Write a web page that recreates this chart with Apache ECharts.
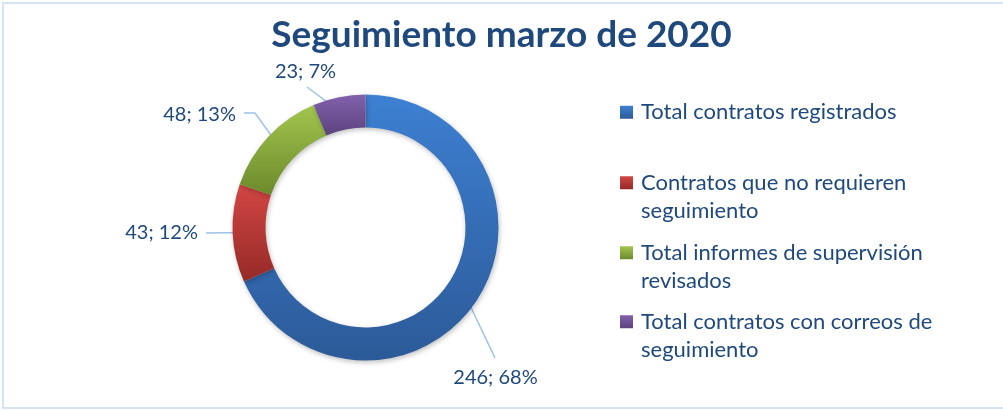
<!DOCTYPE html>
<html>
<head>
<meta charset="utf-8">
<script src="https://cdn.jsdelivr.net/npm/echarts@6/dist/echarts.min.js"></script>
<style>
html,body{margin:0;padding:0;background:#fff;}
#c{width:1003px;height:410px;}
</style>
</head>
<body>
<div id="c"></div>
<script>
// ---- data ----
var categories = [
  'Total contratos registrados',
  'Contratos que no requieren seguimiento',
  'Total informes de supervisión revisados',
  'Total contratos con correos de seguimiento'
];
var legendLines = [
  'Total contratos registrados',
  'Contratos que no requieren\nseguimiento',
  'Total informes de supervisión\nrevisados',
  'Total contratos con correos de\nseguimiento'
];
var values = [246, 43, 48, 23];
var titleText = 'Seguimiento marzo de 2020';

// ---- style ----
var TXT = '#1F497D';
var FONT = 'Lato';
var gradients = [
  ['#3D80D2', '#2C5A98'],
  ['#D24644', '#952A27'],
  ['#A2C54E', '#6B8A2B'],
  ['#8262AC', '#5C427E']
];
function grad(c) {
  return new echarts.graphic.LinearGradient(0, 0, 0, 1, [
    {offset: 0, color: c[0]}, {offset: 1, color: c[1]}
  ]);
}

var cx = 365.5, cy = 227.5, r0 = 100, r1 = 133;
var total = values.reduce(function (a, b) { return a + b; }, 0);
var midAngles = [];
(function () {
  var acc = 0;
  for (var i = 0; i < values.length; i++) {
    midAngles.push((acc + values[i] / 2) / total * 2 * Math.PI);
    acc += values[i];
  }
})();
// label placement relative to pie centre
var labelPlace = [
  {tx: 130, ty: 150, align: 'center', pts: [[129.5, 130.5]]},
  {tx: -167.5, ty: 5.5, align: 'right', pts: [[-159.5, 5.5]]},
  {tx: -129.5, ty: -113, align: 'right', pts: [[-110.5, -114.5], [-121.5, -114.5]]},
  {tx: -60, ty: -156, align: 'center', pts: [[-58.5, -140.5]]}
];

var chart = echarts.init(document.getElementById('c'), null, {renderer: 'canvas'});

var legends = [];
var legendTops = [98, 140, 210, 279];
for (var i = 0; i < categories.length; i++) {
  var multi = legendLines[i].indexOf('\n') >= 0;
  legends.push({
    orient: 'vertical',
    left: 620,
    top: legendTops[i],
    padding: 0,
    icon: 'rect',
    itemWidth: 13,
    itemHeight: 13,
    selectedMode: false,
    data: [categories[i]],
    formatter: (function (k, m) {
      return function () { return m ? '\n' + legendLines[k] : legendLines[k]; };
    })(i, multi),
    textStyle: {
      color: TXT,
      fontFamily: FONT,
      fontSize: 22,
      lineHeight: 28.5,
      padding: [0, 0, 0, 3]
    }
  });
}

var data = values.map(function (v, i) {
  return {name: categories[i], value: v, itemStyle: {color: grad(gradients[i])}};
});

chart.setOption({
  animation: false,
  backgroundColor: '#ffffff',
  title: {
    text: titleText,
    left: 'center',
    top: 12,
    textStyle: {color: TXT, fontFamily: FONT, fontWeight: 'bold', fontSize: 37}
  },
  legend: legends,
  graphic: [{
    type: 'rect',
    shape: {x: 3, y: 3, width: 1010, height: 405},
    style: {fill: 'none', stroke: '#D6E3F4', lineWidth: 2},
    silent: true,
    z: -1
  }],
  series: [{
    type: 'pie',
    center: [cx, cy],
    radius: [r0, r1],
    startAngle: 90,
    clockwise: true,
    percentPrecision: 0,
    avoidLabelOverlap: false,
    itemStyle: {
      shadowBlur: 5,
      shadowOffsetX: 1,
      shadowOffsetY: 2,
      shadowColor: 'rgba(0,0,0,0.25)'
    },
    label: {
      show: true,
      position: 'outside',
      formatter: '{c}; {d}%',
      color: TXT,
      fontFamily: FONT,
      fontSize: 20
    },
    labelLine: {
      show: true,
      length: 15,
      length2: 10,
      lineStyle: {color: '#9DC3E6', width: 1.5}
    },
    labelLayout: function (p) {
      var i = p.dataIndex;
      var a = midAngles[i];
      var rm = (r0 + r1) / 2;
      var start = [cx + rm * Math.sin(a), cy - rm * Math.cos(a)];
      var L = labelPlace[i];
      var pts = [start];
      L.pts.forEach(function (q) { pts.push([cx + q[0], cy + q[1]]); });
      if (pts.length === 2) pts.push(pts[1].slice());
      return {
        x: cx + L.tx,
        y: cy + L.ty,
        align: L.align,
        verticalAlign: 'middle',
        labelLinePoints: pts
      };
    },
    emphasis: {disabled: true},
    data: data
  }]
});
</script>
</body>
</html>
